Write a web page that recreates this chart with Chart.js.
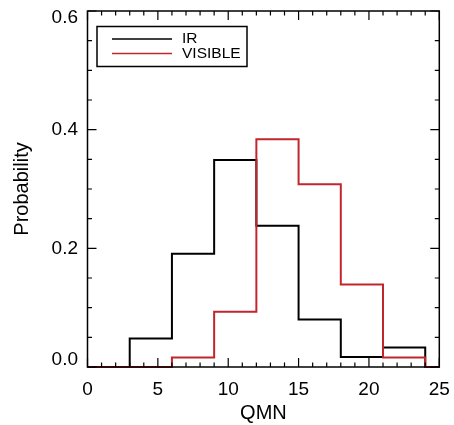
<!DOCTYPE html>
<html>
<head>
<meta charset="utf-8">
<script src="https://cdn.jsdelivr.net/npm/chart.js@4/dist/chart.umd.min.js"></script>
<style>
    html, body { margin: 0; padding: 0; background: #fff; }
    #histChart { display: block; }
</style>
</head>
<body>
<canvas id="histChart" width="454" height="425"></canvas>
<script>
// Bordes de los bins (QMN) y probabilidades por bin
const binEdges = [0, 3, 6, 9, 12, 15, 18, 21, 24, 25];
const irProb = [0, 0.048, 0.191, 0.349, 0.238, 0.080, 0.017, 0.033, 0, 0];
const visibleProb = [0, 0, 0.016, 0.093, 0.384, 0.308, 0.139, 0.016, 0, 0];
const yTickLabels = ['0.0', '0.2', '0.4', '0.6'];

const fontFamily = '"Liberation Sans", Arial, Helvetica, sans-serif';
const rojo = '#c0262c';

// cada valor se mantiene desde su borde hasta el siguiente
function puntos(valores) {
    const pts = [];
    binEdges.forEach((x, i) => {
        pts.push({ x: x, y: valores[i] });
    });
    return pts;
}

// Marco, ticks hacia adentro, etiquetas del eje y y leyenda
const marcoPlugin = {
    id: 'marco',
    afterDraw(chart) {
        const ctx = chart.ctx;
        const area = chart.chartArea;
        const xs = chart.scales.x;
        const ys = chart.scales.y;
        ctx.save();
        ctx.strokeStyle = '#000';
        ctx.lineWidth = 1.5;
        ctx.strokeRect(area.left, area.top, area.right - area.left, area.bottom - area.top);

        ctx.lineWidth = 1.2;
        ctx.beginPath();
        for (let v = 0; v <= 25; v++) {
            const px = xs.getPixelForValue(v);
            const len = v % 5 === 0 ? 9 : 4.5;
            ctx.moveTo(px, area.bottom); ctx.lineTo(px, area.bottom - len);
            ctx.moveTo(px, area.top); ctx.lineTo(px, area.top + len);
        }
        for (let k = 0; k <= 12; k++) {
            const v = k * 0.05;
            const py = ys.getPixelForValue(v);
            const len = k % 4 === 0 ? 9 : 4.5;
            ctx.moveTo(area.left, py); ctx.lineTo(area.left + len, py);
            ctx.moveTo(area.right, py); ctx.lineTo(area.right - len, py);
        }
        ctx.stroke();

        // etiquetas del eje y
        ctx.fillStyle = '#000';
        ctx.font = '19px ' + fontFamily;
        ctx.textAlign = 'right';
        ctx.textBaseline = 'middle';
        yTickLabels.forEach(lbl => {
            let py = ys.getPixelForValue(parseFloat(lbl));
            py = Math.min(Math.max(py, area.top + 7), area.bottom - 7);
            ctx.fillText(lbl, area.left - 9.5, py);
        });

        // leyenda
        const lx = area.left + 9.5, ly = area.top + 15.5;
        ctx.lineWidth = 1.5;
        ctx.strokeRect(lx, ly, 150, 40);
        ctx.font = '15.5px ' + fontFamily;
        ctx.textAlign = 'left';
        const orden = [1, 0];
        orden.forEach((idx, i) => {
            const ds = chart.data.datasets[idx];
            const yy = ly + 12.5 + i * 14.5;
            ctx.strokeStyle = ds.borderColor;
            ctx.lineWidth = 1.5;
            ctx.beginPath();
            ctx.moveTo(lx + 15, yy);
            ctx.lineTo(lx + 75, yy);
            ctx.stroke();
            ctx.fillText(ds.label, lx + 85, yy);
        });
        ctx.restore();
    }
};

const ctx = document.getElementById('histChart').getContext('2d');
new Chart(ctx, {
    type: 'line',
    data: {
        datasets: [{
            label: 'VISIBLE',
            data: puntos(visibleProb),
            borderColor: rojo,
            borderWidth: 2,
            stepped: 'before',
            pointRadius: 0,
            fill: false,
            clip: 4,
            order: 1
        }, {
            label: 'IR',
            data: puntos(irProb),
            borderColor: '#000',
            borderWidth: 2,
            stepped: 'before',
            pointRadius: 0,
            fill: false,
            clip: 4,
            order: 2
        }]
    },
    options: {
        responsive: false,
        animation: false,
        layout: { padding: { left: 10, right: 14.7, top: 11, bottom: 0 } },
        plugins: {
            legend: { display: false },
            tooltip: { enabled: false }
        },
        scales: {
            x: {
                type: 'linear',
                min: 0,
                max: 25,
                grid: { display: false, drawTicks: false },
                border: { display: false },
                ticks: {
                    stepSize: 5,
                    padding: 11,
                    color: '#000',
                    font: { family: fontFamily, size: 19 }
                },
                title: {
                    display: true,
                    text: 'QMN',
                    color: '#000',
                    padding: 0,
                    font: { family: fontFamily, size: 20 }
                },
                afterFit(scale) {
                    scale.height = 58;
                    scale.paddingLeft = 0;
                    scale.paddingRight = 0;
                }
            },
            y: {
                min: 0,
                max: 0.6,
                grid: { display: false, drawTicks: false },
                border: { display: false },
                ticks: { display: false, stepSize: 0.2 },
                title: {
                    display: true,
                    text: 'Probability',
                    color: '#000',
                    padding: 0,
                    font: { family: fontFamily, size: 20 }
                },
                afterFit(scale) { scale.width = 77.5; }
            }
        }
    },
    plugins: [marcoPlugin]
});
</script>
</body>
</html>
